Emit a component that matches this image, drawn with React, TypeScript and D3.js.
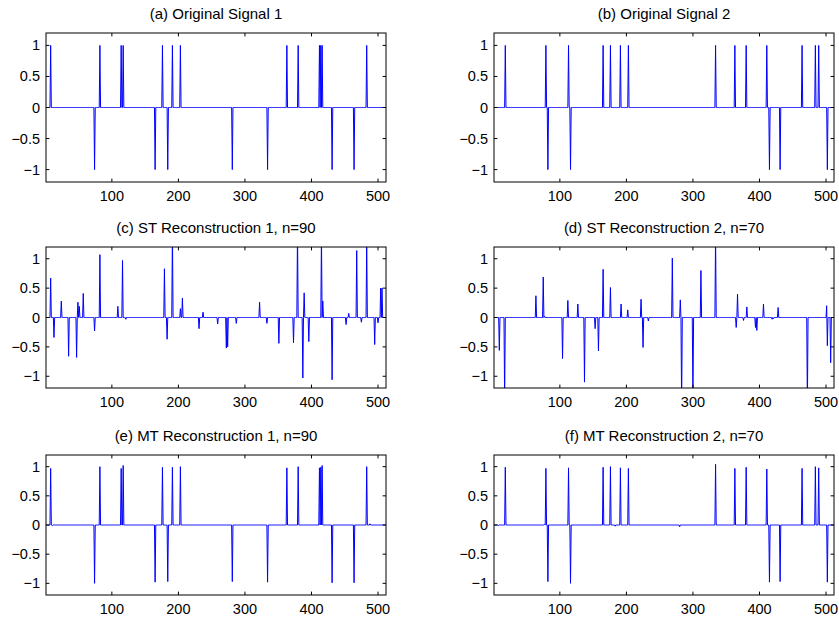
import React from 'react';
import * as d3 from 'd3';

// ---------- data (sparse entries: [sample index, value]) ----------
const N = 512;
const xTickValues = [100, 200, 300, 400, 500];
const yTickValues = [-1, -0.5, 0, 0.5, 1];
const yTickLabels = ['\u22121', '\u22120.5', '0', '0.5', '1'];

const titles = [
  '(a) Original Signal 1',
  '(b) Original Signal 2',
  '(c) ST Reconstruction 1, n=90',
  '(d) ST Reconstruction 2, n=70',
  '(e) MT Reconstruction 1, n=90',
  '(f) MT Reconstruction 2, n=70',
];

const originalSignal1: [number, number][] = [
  [8, 1], [74, -1], [82, 1], [114, 1], [117, 1], [165, -1], [176, 1], [184, -1],
  [191, 1], [203, 1], [281, -1], [334, -1], [363, 1], [380, 1], [412, 1], [414, 1],
  [416, 1], [431, -1], [464, -1], [483, 1],
];

const originalSignal2: [number, number][] = [
  [18, 1], [79, 1], [82, -1], [113, 1], [116, -1], [165, 1], [176, 1], [191, 1],
  [203, 1], [334, 1], [363, 1], [380, 1], [411, 1], [415, -1], [431, -1], [464, 1],
  [484, 1], [489, 1], [502, -1],
];

const stReconstruction1: [number, number][] = [
  [8, 0.67], [13, -0.34], [24, 0.28], [35, -0.66], [47, -0.68], [49, 0.26], [51, 0.19],
  [57, 0.41], [74, -0.23], [82, 1.07], [109, 0.19], [116, 0.97], [121, -0.03], [179, 0.83],
  [183, -0.37], [191, 1.45], [203, 0.15], [206, 0.33], [231, -0.19], [237, 0.09],
  [259, -0.11], [272, -0.52], [274, -0.5], [287, -0.1], [322, 0.26], [333, -0.1],
  [351, -0.44], [373, -0.43], [379, 1.5], [387, -1.03], [389, 0.42], [396, -0.41],
  [415, 1.4], [417, 0.28], [431, -1.06], [452, -0.12], [456, 0.07], [468, 1.14],
  [475, -0.08], [483, 1.3], [495, -0.46], [500, -0.09], [504, 0.5], [506, 0.5],
];

const stReconstruction2: [number, number][] = [
  [9, -0.56], [17, -1.4], [64, 0.37], [75, 0.69], [77, 0.02], [104, -0.7], [112, 0.29],
  [127, 0.23], [137, -1.1], [153, -0.19], [158, -0.57], [165, 0.82], [176, 0.51],
  [192, 0.23], [202, 0.13], [222, 0.31], [225, -0.51], [233, -0.06], [269, 1.01],
  [281, 0.3], [283, -1.5], [300, -1.4], [312, 0.8], [334, 1.4], [365, -0.17], [367, 0.4],
  [376, -0.05], [381, 0.18], [394, -0.17], [396, -0.22], [406, 0.23], [419, -0.03],
  [421, -0.02], [428, 0.17], [472, -1.5], [501, 0.2], [502, -0.48], [507, -0.77],
];

const mtReconstruction1: [number, number][] = [
  [8, 0.97], [11, -0.01], [74, -1.0], [82, 1.0], [114, 0.97], [117, 1.02], [165, -0.98],
  [176, 0.99], [184, -0.97], [191, 0.99], [203, 1.0], [281, -0.97], [334, -0.98],
  [363, 0.98], [380, 1.0], [412, 0.98], [414, 0.99], [416, 1.02], [431, -0.99],
  [464, -0.99], [483, 1.0], [488, 0.02],
];

const mtReconstruction2: [number, number][] = [
  [8, -0.01], [18, 0.99], [77, 0.01], [79, 0.97], [82, -0.97], [113, 0.98], [116, -1.0],
  [165, 0.99], [176, 1.0], [183, -0.02], [191, 0.98], [203, 0.97], [280, -0.03],
  [334, 1.04], [363, 0.97], [380, 0.99], [411, 0.96], [415, -0.98], [431, -0.97],
  [464, 0.97], [484, 1.0], [489, 0.98], [502, -0.98],
];

const signals = [
  originalSignal1, originalSignal2,
  stReconstruction1, stReconstruction2,
  mtReconstruction1, mtReconstruction2,
];

// ---------- layout ----------
const W = 839;
const H = 618;
const colX = [[46, 386], [494, 834]];
const rowY = [[33, 182], [247, 388], [455, 595]];
const FONT = 'Liberation Sans, Arial, Helvetica, sans-serif';
const BLUE = '#0000ff';

function toDense(entries: [number, number][]) {
  const arr = Array.from({ length: N }, (_, k) => ({ i: k + 1, v: 0 }));
  entries.forEach(([i, v]) => { arr[i - 1].v = v; });
  return arr;
}

function Panel({ idx }: { idx: number }) {
  const col = idx % 2;
  const row = Math.floor(idx / 2);
  const [x0, x1] = colX[col];
  const [y0, y1] = rowY[row];
  const x = d3.scaleLinear().domain([1, N]).range([x0, x1]);
  const y = d3.scaleLinear().domain([-1.2, 1.2]).range([y1, y0]);
  const data = toDense(signals[idx]);
  const line = d3.line<{ i: number; v: number }>().x(d => x(d.i)).y(d => y(d.v));
  const clipId = `clip${idx}`;
  const tl = 3.4;
  return (
    <g>
      <defs>
        <clipPath id={clipId}>
          <rect x={x0} y={y0} width={x1 - x0} height={y1 - y0} />
        </clipPath>
      </defs>
      <rect x={x0} y={y0} width={x1 - x0} height={y1 - y0} fill="#fff" />
      <path d={line(data) || ''} fill="none" stroke={BLUE} strokeWidth={1} clipPath={`url(#${clipId})`} />
      <rect x={x0} y={y0} width={x1 - x0} height={y1 - y0} fill="none" stroke="#000" strokeWidth={1} />
      {xTickValues.map(t => (
        <g key={`x${t}`}>
          <line x1={x(t)} x2={x(t)} y1={y1} y2={y1 - tl} stroke="#000" strokeWidth={1} />
          <line x1={x(t)} x2={x(t)} y1={y0} y2={y0 + tl} stroke="#000" strokeWidth={1} />
          <text x={x(t)} y={y1 + 18.5} textAnchor="middle" fontFamily={FONT} fontSize={14.5}>{t}</text>
        </g>
      ))}
      {yTickValues.map((t, k) => (
        <g key={`y${t}`}>
          <line x1={x0} x2={x0 + tl} y1={y(t)} y2={y(t)} stroke="#000" strokeWidth={1} />
          <line x1={x1} x2={x1 - tl} y1={y(t)} y2={y(t)} stroke="#000" strokeWidth={1} />
          <text x={x0 - 6} y={y(t) + 5} textAnchor="end" fontFamily={FONT} fontSize={14.5}>{yTickLabels[k]}</text>
        </g>
      ))}
      <text x={(x0 + x1) / 2} y={y0 - 14} textAnchor="middle" fontFamily={FONT} fontSize={15}>{titles[idx]}</text>
    </g>
  );
}

export default function App() {
  return (
    <svg width={W} height={H} style={{ position: 'absolute', left: 0, top: 0, background: '#fff' }}>
      <rect x={0} y={0} width={W} height={H} fill="#fff" />
      {titles.map((_, i) => <Panel key={i} idx={i} />)}
    </svg>
  );
}
